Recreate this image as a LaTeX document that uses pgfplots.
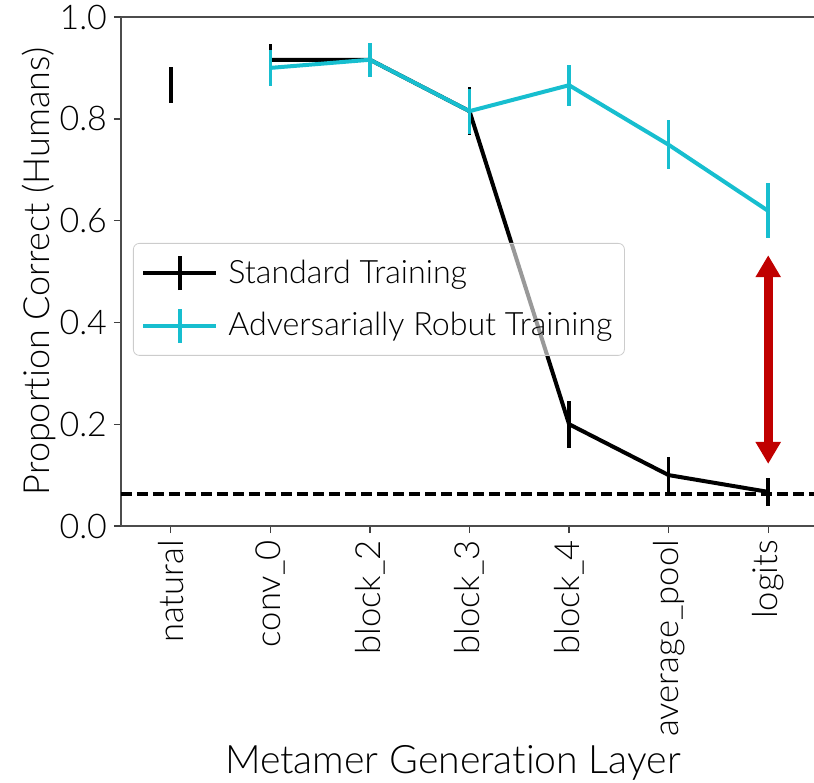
\documentclass[border=0pt]{standalone}
\usepackage{fontspec}
\setmainfont{Lato Light}[Ligatures=NoCommon]
\usepackage{pgfplots}
\pgfplotsset{compat=1.18}
\usetikzlibrary{arrows.meta}
\definecolor{robust}{HTML}{17BECF}
\definecolor{gapred}{HTML}{C00000}

\begin{document}
\begin{tikzpicture}
\begin{axis}[
  name=ax,
  scale only axis,
  width=346.5pt, height=254.5pt,
  xmin=-0.5, xmax=6.46, ymin=0, ymax=1,
  axis x line*=box, axis y line*=left,
  xtick={0,1,2,3,4,5,6},
  xticklabels={natural,conv\_0,block\_2,block\_3,block\_4,average\_pool,logits},
  ytick={0,0.2,0.4,0.6,0.8,1},
  yticklabels={0.0,0.2,0.4,0.6,0.8,1.0},
  tick align=outside, xtick pos=left, ytick pos=left,
  major tick length=3.5pt,
  tick style={line width=0.7pt, color=black!75},
  axis line style={line width=0.6pt, color=black!70},
  xticklabel style={rotate=90, anchor=east, font=\fontsize{17.3}{19}\selectfont},
  yticklabel style={font=\fontsize{17}{19}\selectfont},
  xlabel={Metamer Generation Layer},
  xlabel style={at={(axis description cs:0.479,-0.466)}, anchor=center, font=\fontsize{19.6}{22}\selectfont},
  ylabel={Proportion Correct (Humans)},
  ylabel style={at={(axis description cs:-0.119,0.5)}, anchor=center, font=\fontsize{18}{21}\selectfont},
  legend style={at={(axis description cs:0.0173,0.556)}, anchor=north west,
    draw=black!20, rounded corners=3pt, fill=white, fill opacity=0.6,
    draw opacity=1, text opacity=1, inner xsep=4pt, inner ysep=5.5pt,
    font=\fontsize{16.1}{19}\selectfont, row sep=7.5pt},
  legend cell align=left,
  legend image code/.code={
    \draw[#1, line width=2pt] (0pt,0pt) -- (36.5pt,0pt);
    \draw[#1, line width=1.75pt] (18.25pt,-8.5pt) -- (18.25pt,8.5pt);
  },
  every axis plot/.append style={line width=2pt, no markers},
  error bars/y dir=both, error bars/y explicit,
  error bars/error mark=none,
  error bars/error bar style={line width=1.75pt},
]

% natural images: single point, no connecting line
\addplot[black, forget plot] coordinates {(0,0.866) +- (0,0.035)};

% standard training
\addplot[black] coordinates {
  (1,0.916) +- (0,0.031)
  (2,0.916) +- (0,0.032)
  (3,0.815) +- (0,0.047)
  (4,0.200) +- (0,0.046)
  (5,0.100) +- (0,0.036)
  (6,0.067) +- (0,0.028)
};
\addlegendentry{\hspace{3pt}Standard Training}

% adversarially robust training
\addplot[robust] coordinates {
  (1,0.900) +- (0,0.035)
  (2,0.916) +- (0,0.033)
  (3,0.815) +- (0,0.044)
  (4,0.866) +- (0,0.040)
  (5,0.749) +- (0,0.048)
  (6,0.619) +- (0,0.054)
};
\addlegendentry{\hspace{3pt}Adversarially Robut Training}

% chance level (1/16)
\addplot[black, forget plot, dash pattern=on 5.5pt off 2.5pt,
  error bars/y dir=none] coordinates {(-0.5,0.0625) (6.46,0.0625)};

% gap between the two training regimes at the logits layer
\addplot[gapred, forget plot, line width=4.5pt, error bars/y dir=none,
  {Triangle[width=12pt,length=11pt]}-{Triangle[width=12pt,length=11pt]}]
  coordinates {(6,0.122) (6,0.532)};

\end{axis}
\pgfresetboundingbox
\path ([shift={(-60.5pt,-128pt)}]ax.south west) rectangle ([shift={(0pt,8.5pt)}]ax.north east);
\end{tikzpicture}
\end{document}
